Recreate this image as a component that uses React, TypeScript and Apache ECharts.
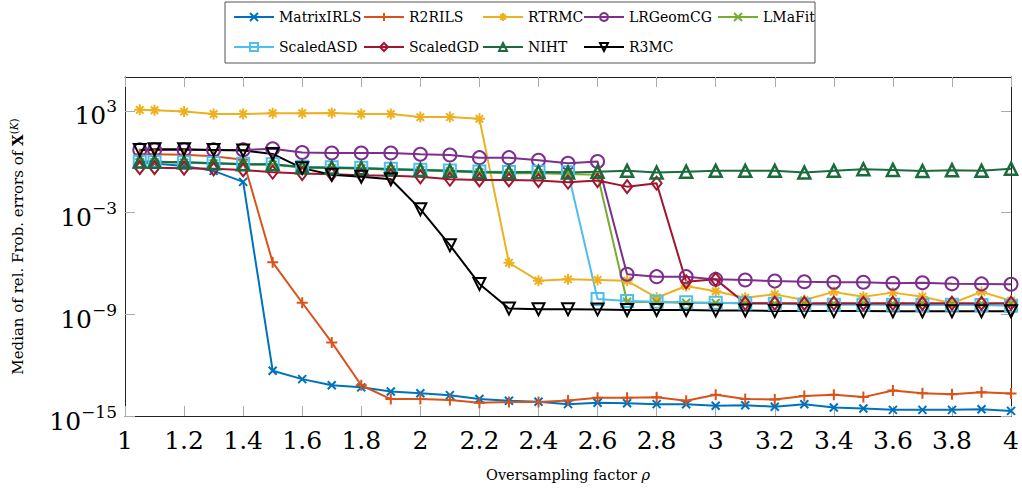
import React, { useEffect, useRef } from 'react';
import * as echarts from 'echarts';

const FONT = 'DejaVu Serif';

const rho = [1.05, 1.1, 1.2, 1.3, 1.4, 1.5, 1.6, 1.7, 1.8, 1.9, 2.0, 2.1, 2.2, 2.3, 2.4, 2.5, 2.6, 2.7, 2.8, 2.9, 3.0, 3.1, 3.2, 3.3, 3.4, 3.5, 3.6, 3.7, 3.8, 3.9, 4.0];

const matrixIRLS = [0.89, 0.79, 0.56, 0.29, 6.5e-2, 4.7e-13, 1.5e-13, 6.5e-14, 4.9e-14, 2.8e-14, 2.2e-14, 1.7e-14, 1.0e-14, 7.9e-15, 6.9e-15, 5.0e-15, 6.0e-15, 5.6e-15, 5.0e-15, 4.9e-15, 4.0e-15, 4.3e-15, 3.5e-15, 4.9e-15, 3.2e-15, 2.8e-15, 2.3e-15, 2.3e-15, 2.3e-15, 2.5e-15, 2.0e-15];
const r2rils = [2.8, 2.8, 2.6, 2.1, 1.3, 1.17e-6, 4.8e-9, 2.2e-11, 6.5e-14, 1.0e-14, 1.0e-14, 8.7e-15, 6.0e-15, 6.6e-15, 6.6e-15, 8.3e-15, 1.2e-14, 1.2e-14, 1.26e-14, 7.9e-15, 1.8e-14, 1.0e-14, 9.5e-15, 1.5e-14, 1.8e-14, 1.3e-14, 3.2e-14, 2.2e-14, 1.9e-14, 2.5e-14, 2.1e-14];
const rtrmc = [1150, 1100, 910, 660, 660, 720, 720, 760, 650, 650, 430, 430, 340, 1.1e-6, 9.5e-8, 1.15e-7, 1.05e-7, 9.5e-8, 9.5e-9, 4.7e-8, 2.3e-8, 9.5e-9, 1.5e-8, 6.9e-9, 2.1e-8, 1.1e-8, 1.9e-8, 1.1e-8, 4.5e-9, 2.1e-8, 6.3e-9];
const lrgeomcg = [5.0, 5.0, 5.0, 5.0, 5.0, 5.8, 3.5, 3.3, 3.3, 3.3, 2.75, 2.5, 1.74, 1.74, 1.23, 0.81, 1.02, 2.3e-7, 1.66e-7, 1.66e-7, 1.15e-7, 1.05e-7, 9.1e-8, 8.3e-8, 7.8e-8, 7.8e-8, 6.8e-8, 7.2e-8, 6.3e-8, 6.2e-8, 5.9e-8];
const lmafit = [0.95, 0.95, 0.88, 0.78, 0.68, 0.66, 0.45, 0.42, 0.40, 0.34, 0.31, 0.27, 0.23, 0.21, 0.21, 0.19, 0.17, 5.5e-9, 5.1e-9, 4.8e-9, 4.6e-9, 4.5e-9, 4.3e-9, 4.4e-9, 4.3e-9, 4.4e-9, 4.3e-9, 4.4e-9, 4.2e-9, 4.4e-9, 4.3e-9];
const scaledASD = [1.0, 1.0, 0.93, 0.85, 0.75, 0.72, 0.50, 0.47, 0.44, 0.38, 0.34, 0.30, 0.27, 0.25, 0.26, 0.24, 7.9e-9, 6.0e-9, 5.5e-9, 5.1e-9, 4.8e-9, 4.5e-9, 4.2e-9, 3.8e-9, 3.7e-9, 3.6e-9, 3.6e-9, 3.5e-9, 3.6e-9, 3.5e-9, 3.2e-9];
const scaledGD = [0.45, 0.45, 0.42, 0.38, 0.33, 0.24, 0.20, 0.18, 0.16, 0.15, 0.13, 0.093, 0.085, 0.085, 0.078, 0.062, 0.078, 0.034, 0.054, 8.3e-8, 1.15e-7, 4.5e-9, 4.5e-9, 4.4e-9, 4.5e-9, 4.4e-9, 4.5e-9, 4.4e-9, 4.5e-9, 4.4e-9, 4.5e-9];
const niht = [1.02, 1.0, 0.93, 0.81, 0.71, 0.71, 0.48, 0.45, 0.42, 0.36, 0.33, 0.29, 0.25, 0.24, 0.25, 0.23, 0.26, 0.29, 0.23, 0.26, 0.29, 0.29, 0.29, 0.23, 0.29, 0.36, 0.33, 0.28, 0.32, 0.29, 0.39];
const r3mc = [5.0, 5.5, 5.5, 5.0, 4.6, 2.9, 0.42, 0.17, 0.13, 0.093, 1.6e-3, 1.2e-5, 6.2e-8, 2.2e-9, 2.0e-9, 2.0e-9, 1.95e-9, 1.8e-9, 1.8e-9, 1.8e-9, 1.7e-9, 1.7e-9, 1.55e-9, 1.55e-9, 1.55e-9, 1.55e-9, 1.5e-9, 1.5e-9, 1.5e-9, 1.5e-9, 1.5e-9];

const yTicks = [1e-15, 1e-9, 1e-3, 1e3];

const CROSS = 'path://M0,0L10,10M10,0L0,10';
const PLUS = 'path://M5,0L5,10M0,5L10,5';
const STAR = 'path://M5,0L5,10M0,5L10,5M1.6,1.6L8.4,8.4M8.4,1.6L1.6,8.4';

function mk(name: string, color: string, vals: number[], symbol: string, size: any, hollow: boolean, extra: any = {}) {
  return {
    name,
    type: 'line',
    data: rho.map((x, i) => [x, vals[i]]),
    symbol,
    symbolSize: size,
    showSymbol: true,
    showAllSymbol: true,
    lineStyle: { color, width: 2 },
    itemStyle: {
      color: hollow ? 'rgba(255,255,255,0)' : color,
      borderColor: color,
      borderWidth: 2,
    },
    emphasis: { disabled: true },
    silent: true,
    ...extra,
  };
}

export default function App() {
  const ref = useRef<HTMLDivElement>(null);
  useEffect(() => {
    if (!ref.current) return;
    const chart = echarts.init(ref.current, null, { renderer: 'svg' });
    const legendText = { fontFamily: FONT, fontSize: 14, color: '#000', lineHeight: 20 };
    const legendBase = {
      orient: 'vertical',
      top: 7,
      padding: 0,
      itemGap: 10,
      itemWidth: 40,
      itemHeight: 10,
      selectedMode: false,
      textStyle: legendText,
    };
    const tickStyle = { show: true, inside: true, length: 10, lineStyle: { color: '#aaa', width: 1 } };
    const frame = { show: true, lineStyle: { color: '#222', width: 1 } };
    chart.setOption({
      animation: false,
      backgroundColor: '#fff',
      textStyle: { fontFamily: FONT },
      grid: { left: 125, right: 10, top: 77, bottom: 75, containLabel: false },
      graphic: [
        {
          type: 'rect',
          shape: { x: 225, y: 2, width: 590, height: 61 },
          style: { fill: 'none', stroke: '#555', lineWidth: 1 },
          silent: true,
        },
      ],
      legend: [
        { ...legendBase, left: 233, data: ['MatrixIRLS', 'ScaledASD'] },
        { ...legendBase, left: 363, data: ['R2RILS', 'ScaledGD'] },
        { ...legendBase, left: 482, data: ['RTRMC', 'NIHT'] },
        { ...legendBase, left: 583, data: ['LRGeomCG', 'R3MC'] },
        { ...legendBase, left: 717, data: ['LMaFit'] },
      ],
      xAxis: [
        {
          type: 'value',
          min: 1,
          max: 4,
          interval: 0.2,
          position: 'bottom',
          axisLine: frame,
          axisTick: tickStyle,
          splitLine: { show: false },
          axisLabel: {
            margin: 12,
            fontFamily: FONT,
            fontSize: 25,
            color: '#000',
            formatter: (v: number) => String(Math.round(v * 10) / 10),
          },
          name: '{n|Oversampling factor }{i|ρ}',
          nameLocation: 'middle',
          nameGap: 51,
          nameTextStyle: {
            rich: {
              n: { fontFamily: FONT, fontSize: 14.5, color: '#000' },
              i: { fontFamily: FONT, fontSize: 14.5, color: '#000', fontStyle: 'italic' },
            },
          },
        },
        {
          type: 'value',
          min: 1,
          max: 4,
          interval: 0.2,
          position: 'top',
          axisLine: frame,
          axisTick: tickStyle,
          splitLine: { show: false },
          axisLabel: { show: false },
        },
      ],
      yAxis: [
        {
          type: 'log',
          logBase: 10,
          min: 1e-15,
          max: 1e5,
          position: 'left',
          axisLine: frame,
          axisTick: { ...tickStyle, customValues: yTicks },
          splitLine: { show: false },
          minorTick: { show: false },
          axisLabel: {
            customValues: yTicks,
            margin: 8,
            padding: [10, 0, 0, 0],
            formatter: (v: number) => {
              const e = Math.round(Math.log10(v));
              return '{b|10}{s|' + (e < 0 ? '\u2212' + -e : String(e)) + '}';
            },
            rich: {
              b: { fontFamily: FONT, fontSize: 25, lineHeight: 36, color: '#000' },
              s: { fontFamily: FONT, fontSize: 17, lineHeight: 17, verticalAlign: 'top', color: '#000' },
            },
          },
          name: '{t|Median of rel. Frob. errors of }{b|X}{s|(}{k|K}{s|)}',
          nameLocation: 'middle',
          nameGap: 97,
          nameRotate: 90,
          nameTextStyle: {
            rich: {
              t: { fontFamily: FONT, fontSize: 15, color: '#000', lineHeight: 20 },
              b: { fontFamily: FONT, fontSize: 15, color: '#000', fontWeight: 'bold', lineHeight: 20 },
              s: { fontFamily: FONT, fontSize: 10.5, color: '#000', verticalAlign: 'top', lineHeight: 12 },
              k: { fontFamily: FONT, fontSize: 10.5, color: '#000', fontStyle: 'italic', verticalAlign: 'top', lineHeight: 12 },
            },
          },
        },
        {
          type: 'log',
          logBase: 10,
          min: 1e-15,
          max: 1e5,
          position: 'right',
          axisLine: frame,
          axisTick: { ...tickStyle, customValues: yTicks },
          splitLine: { show: false },
          minorTick: { show: false },
          axisLabel: { show: false },
        },
      ],
      series: [
        mk('MatrixIRLS', '#0072BD', matrixIRLS, CROSS, 8, false),
        mk('R2RILS', '#D95319', r2rils, PLUS, 11, false),
        mk('RTRMC', '#EDB120', rtrmc, STAR, 11, false),
        mk('LRGeomCG', '#7E2F8E', lrgeomcg, 'circle', 13, true),
        mk('LMaFit', '#77AC30', lmafit, CROSS, 8, false),
        mk('ScaledASD', '#4DBEEE', scaledASD, 'rect', 12, true),
        mk('ScaledGD', '#A2142F', scaledGD, 'diamond', [10, 13], true),
        mk('NIHT', '#1B6B3C', niht, 'triangle', 12, true, { itemStyle: { color: 'rgba(255,255,255,0)', borderColor: '#1B6B3C', borderWidth: 2.5 } }),
        mk('R3MC', '#000000', r3mc, 'triangle', 12, true, { symbolRotate: 180 }),
      ],
    });
    return () => chart.dispose();
  }, []);
  return <div ref={ref} style={{ width: 1022, height: 491, position: 'absolute', left: 0, top: 0 }} />;
}
